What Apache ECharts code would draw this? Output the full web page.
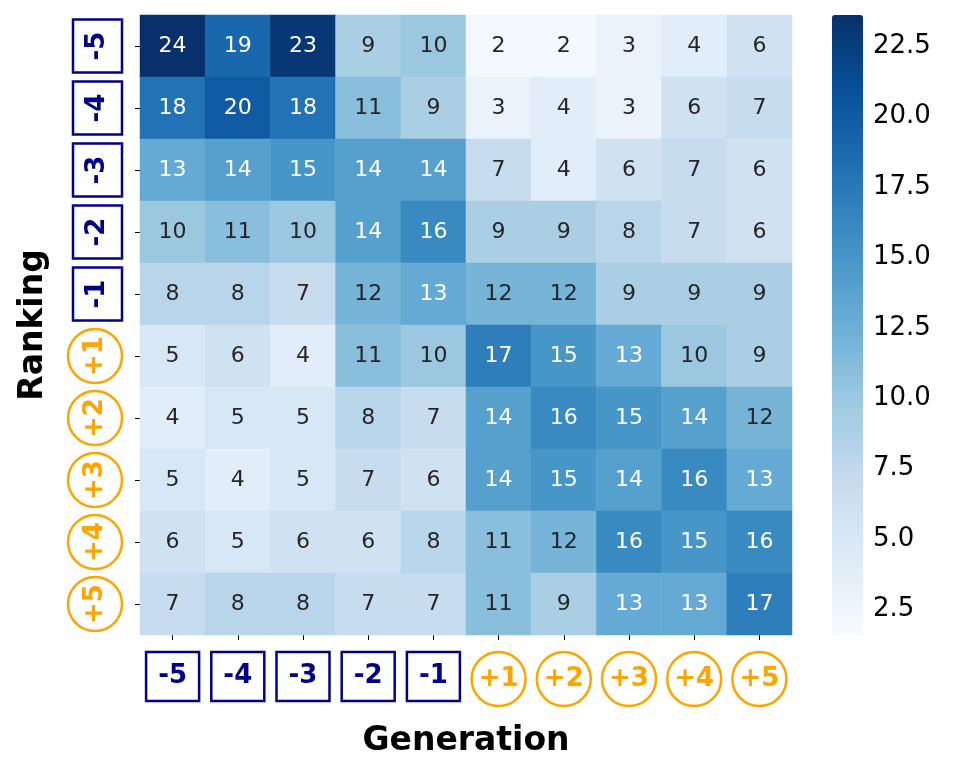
<!DOCTYPE html>
<html>
<head>
<meta charset="utf-8">
<script src="https://cdn.jsdelivr.net/npm/echarts@6/dist/echarts.min.js"></script>
<style>
    html, body { margin: 0; padding: 0; background: #fff; }
    #chart { width: 969px; height: 775px; }
</style>
</head>
<body>
<div id="chart"></div>
<script>
// categories (same for both axes)
var generation = ['-5', '-4', '-3', '-2', '-1', '+1', '+2', '+3', '+4', '+5'];
var ranking = ['-5', '-4', '-3', '-2', '-1', '+1', '+2', '+3', '+4', '+5'];

// one row per ranking, one column per generation
var counts = [
    [24, 19, 23, 9, 10, 2, 2, 3, 4, 6],
    [18, 20, 18, 11, 9, 3, 4, 3, 6, 7],
    [13, 14, 15, 14, 14, 7, 4, 6, 7, 6],
    [10, 11, 10, 14, 16, 9, 9, 8, 7, 6],
    [8, 8, 7, 12, 13, 12, 12, 9, 9, 9],
    [5, 6, 4, 11, 10, 17, 15, 13, 10, 9],
    [4, 5, 5, 8, 7, 14, 16, 15, 14, 12],
    [5, 4, 5, 7, 6, 14, 15, 14, 16, 13],
    [6, 5, 6, 6, 8, 11, 12, 16, 15, 16],
    [7, 8, 8, 7, 7, 11, 9, 13, 13, 17]
];

// colorbar
var scaleMin = 1.6, scaleMax = 23.6;
var barTicks = [2.5, 5, 7.5, 10, 12.5, 15, 17.5, 20, 22.5];
var blues = ['#f7fbff', '#deebf7', '#c6dbef', '#9ecae1', '#6baed6', '#4292c6', '#2171b5', '#08519c', '#08306b'];

var FONT = 'DejaVu Sans';
var NAVY = '#00008b', ORANGE = '#ffa500';

var cells = [];
for (var r = 0; r < ranking.length; r++) {
    for (var c = 0; c < generation.length; c++) {
        var v = counts[r][c];
        cells.push({
            value: [c, r, v],
            label: { color: v > 12.5 ? '#ffffff' : '#262626' }
        });
    }
}

function boxLabel(v) {
    return (v.charAt(0) === '-' ? '{neg|' : '{pos|') + v + '}';
}

var richBoxes = {
    neg: {
        color: NAVY, fontFamily: FONT, fontWeight: 'bold', fontSize: 26,
        borderColor: NAVY, borderWidth: 2.5, width: 53, height: 49, lineHeight: 49,
        align: 'center', verticalAlign: 'middle'
    },
    pos: {
        color: ORANGE, fontFamily: FONT, fontWeight: 'bold', fontSize: 26,
        borderColor: ORANGE, borderWidth: 2.5, width: 54, height: 54, lineHeight: 54,
        borderRadius: 28, align: 'center', verticalAlign: 'middle'
    }
};

var myChart = echarts.init(document.getElementById('chart'));
var option = {
    backgroundColor: '#fff',
    animation: false,
    grid: [
        { left: 140, right: 177, top: 15, bottom: 140 },
        { left: 832, width: 31, top: 15, bottom: 140 }
    ],
    xAxis: [{
        type: 'category',
        data: generation,
        gridIndex: 0,
        name: 'Generation',
        nameLocation: 'middle',
        nameGap: 90,
        nameTextStyle: { fontFamily: FONT, fontWeight: 'bold', fontSize: 33, color: '#000' },
        axisLine: { show: false },
        axisTick: { show: true, alignWithLabel: true, length: 5, lineStyle: { color: '#000' } },
        axisLabel: { margin: 17, formatter: boxLabel, rich: richBoxes },
        splitLine: { show: false }
    }, {
        type: 'value',
        gridIndex: 1,
        show: false,
        min: 0,
        max: 1
    }],
    yAxis: [{
        type: 'category',
        data: ranking,
        gridIndex: 0,
        inverse: true,
        name: 'Ranking',
        nameLocation: 'middle',
        nameGap: 90,
        nameTextStyle: { fontFamily: FONT, fontWeight: 'bold', fontSize: 33, color: '#000' },
        axisLine: { show: false },
        axisTick: { show: true, alignWithLabel: true, length: 5, lineStyle: { color: '#000' } },
        axisLabel: { margin: 18, rotate: 90, formatter: boxLabel, rich: richBoxes },
        splitLine: { show: false }
    }, {
        type: 'value',
        gridIndex: 1,
        position: 'right',
        min: scaleMin,
        max: scaleMax,
        axisLine: { show: false },
        axisTick: { show: true, length: 4, customValues: barTicks, lineStyle: { color: '#000' } },
        axisLabel: {
            margin: 10, customValues: barTicks, fontFamily: FONT, fontSize: 26, color: '#000',
            formatter: function (v) { return v.toFixed(1); }
        },
        splitLine: { show: false }
    }],
    visualMap: {
        type: 'continuous',
        seriesIndex: 0,
        min: scaleMin,
        max: scaleMax,
        calculable: false,
        hoverLink: false,
        orient: 'vertical',
        left: 832,
        top: 15,
        padding: 0,
        itemWidth: 31,
        itemHeight: 620,
        text: null,
        inRange: { color: blues }
    },
    series: [{
        type: 'heatmap',
        xAxisIndex: 0,
        yAxisIndex: 0,
        data: cells,
        label: { show: true, fontFamily: FONT, fontSize: 22 },
        itemStyle: { borderWidth: 0 },
        emphasis: { disabled: true }
    }]
};
myChart.setOption(option);
</script>
</body>
</html>
